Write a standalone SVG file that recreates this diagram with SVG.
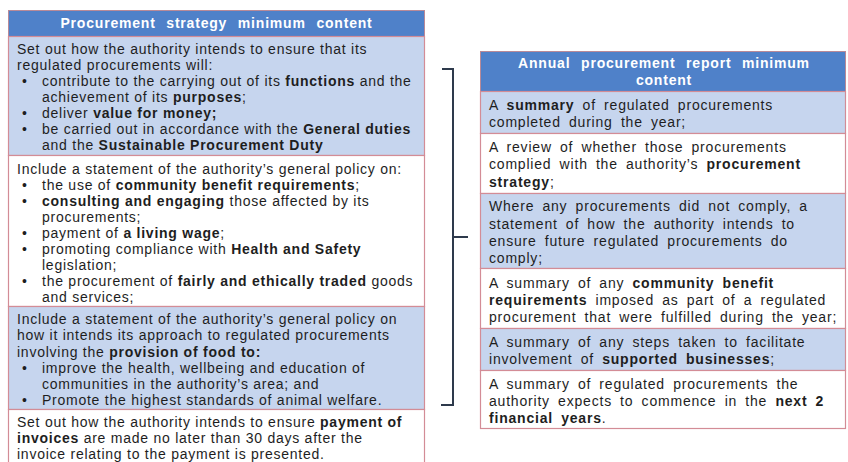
<svg xmlns="http://www.w3.org/2000/svg" width="848" height="462" viewBox="0 0 848 462">
<style>
text{font-family:"Liberation Sans",Arial,sans-serif;font-size:14px;fill:#1e1e1e;letter-spacing:0.75px}
.b{font-weight:bold}
.h{font-weight:bold;fill:#ffffff;font-size:14px;text-anchor:middle;word-spacing:6px;letter-spacing:0.8px}
.r{word-spacing:3.5px;letter-spacing:0.8px}
.hd{fill:#4f81c9;stroke:#b98a98;stroke-width:1}
.lb{fill:#c6d5ee;stroke:#d38c96;stroke-width:1.2}
.wh{fill:#ffffff;stroke:#d38c96;stroke-width:1.2}
.br{fill:none;stroke:#2e3a4c;stroke-width:2}
</style>
<rect x="0" y="0" width="848" height="462" fill="#ffffff"/>
<g id="left-header">
<rect class="hd" x="8.5" y="10.5" width="416" height="26"/>
<text class="h" x="216.5" y="28">Procurement strategy minimum content</text>
</g>
<g id="left-row1">
<rect class="lb" x="8.5" y="36.5" width="416" height="119"/>
<text x="17" y="54">Set out how the authority intends to ensure that its</text>
<text x="17" y="70">regulated procurements will:</text>
<text x="22" y="86">•</text><text x="42" y="86">contribute to the carrying out of its  <tspan class="b">functions</tspan> and the</text>
<text x="42" y="102">achievement of its <tspan class="b">purposes</tspan>;</text>
<text x="22" y="118">•</text><text x="42" y="118">deliver <tspan class="b">value for money;</tspan></text>
<text x="22" y="134">•</text><text x="42" y="134">be carried out in accordance with the <tspan class="b">General duties</tspan></text>
<text x="42" y="150">and the <tspan class="b">Sustainable Procurement Duty</tspan></text>
</g>
<g id="left-row2">
<rect class="wh" x="8.5" y="155.5" width="416" height="151"/>
<text x="17" y="174">Include a statement of the authority’s general policy on:</text>
<text x="22" y="190">•</text><text x="42" y="190">the use of <tspan class="b">community benefit requirements</tspan>;</text>
<text x="22" y="206">•</text><text x="42" y="206"><tspan class="b">consulting and engaging</tspan> those affected by its</text>
<text x="42" y="222">procurements;</text>
<text x="22" y="238">•</text><text x="42" y="238">payment of <tspan class="b">a living wage</tspan>;</text>
<text x="22" y="254">•</text><text x="42" y="254">promoting compliance with <tspan class="b">Health and Safety</tspan></text>
<text x="42" y="270">legislation;</text>
<text x="22" y="286">•</text><text x="42" y="286">the procurement of <tspan class="b">fairly and ethically traded</tspan> goods</text>
<text x="42" y="302">and services;</text>
</g>
<g id="left-row3">
<rect class="lb" x="8.5" y="306.5" width="416" height="103"/>
<text x="17" y="324">Include a statement of the authority’s general policy on</text>
<text x="17" y="340">how it intends its approach to regulated procurements</text>
<text x="17" y="357">involving the <tspan class="b">provision of food to:</tspan></text>
<text x="22" y="373">•</text><text x="42" y="373">improve the health, wellbeing and education of</text>
<text x="42" y="389">communities in the authority’s area; and</text>
<text x="22" y="405">•</text><text x="42" y="405">Promote the highest standards of animal welfare.</text>
</g>
<g id="left-row4">
<rect class="wh" x="8.5" y="409.5" width="416" height="60"/>
<text x="17" y="427">Set out how the authority intends to ensure <tspan class="b">payment of</tspan></text>
<text x="17" y="443"><tspan class="b">invoices</tspan> are made no later than 30 days after the</text>
<text x="17" y="459">invoice relating to the payment is presented.</text>
</g>
<g id="connectors">
<path class="br" d="M442 69 H453 V405 H441 M453 237 H468"/>
</g>
<g id="right-header">
<rect class="hd" x="480.5" y="51.5" width="365" height="40"/>
<text class="h" x="664" y="68">Annual procurement report minimum</text>
<text class="h" x="664" y="85">content</text>
</g>
<g id="right-row1">
<rect class="lb" x="480.5" y="91.5" width="365" height="42"/>
<text class="r" x="489" y="110">A <tspan class="b">summary</tspan>  of regulated  procurements</text>
<text class="r" x="489" y="127">completed  during  the  year;</text>
</g>
<g id="right-row2">
<rect class="wh" x="480.5" y="133.5" width="365" height="60"/>
<text class="r" x="489" y="152">A review  of whether  those procurements</text>
<text class="r" x="489" y="169">complied with the authority’s <tspan class="b">procurement</tspan></text>
<text class="r" x="489" y="187"><tspan class="b">strategy</tspan>;</text>
</g>
<g id="right-row3">
<rect class="lb" x="480.5" y="193.5" width="365" height="75"/>
<text class="r" x="489" y="211">Where any procurements  did not comply, a</text>
<text class="r" x="489" y="229">statement  of how the authority  intends  to</text>
<text class="r" x="489" y="246">ensure  future  regulated  procurements  do</text>
<text class="r" x="489" y="263">comply;</text>
</g>
<g id="right-row4">
<rect class="wh" x="480.5" y="268.5" width="365" height="60"/>
<text class="r" x="489" y="288">A summary  of any <tspan class="b">community  benefit</tspan></text>
<text class="r" x="489" y="305"><tspan class="b">requirements</tspan>  imposed as part of a regulated</text>
<text class="r" x="489" y="322">procurement  that were  fulfilled  during  the  year;</text>
</g>
<g id="right-row5">
<rect class="lb" x="480.5" y="328.5" width="365" height="42"/>
<text class="r" x="489" y="347">A summary  of any steps taken  to facilitate</text>
<text class="r" x="489" y="364">involvement  of <tspan class="b">supported  businesses</tspan>;</text>
</g>
<g id="right-row6">
<rect class="wh" x="480.5" y="370.5" width="365" height="58"/>
<text class="r" x="489" y="389">A summary  of regulated  procurements  the</text>
<text class="r" x="489" y="406">authority  expects  to commence  in the <tspan class="b">next 2</tspan></text>
<text class="r" x="489" y="423"><tspan class="b">financial  years</tspan>.</text>
</g>
</svg>
